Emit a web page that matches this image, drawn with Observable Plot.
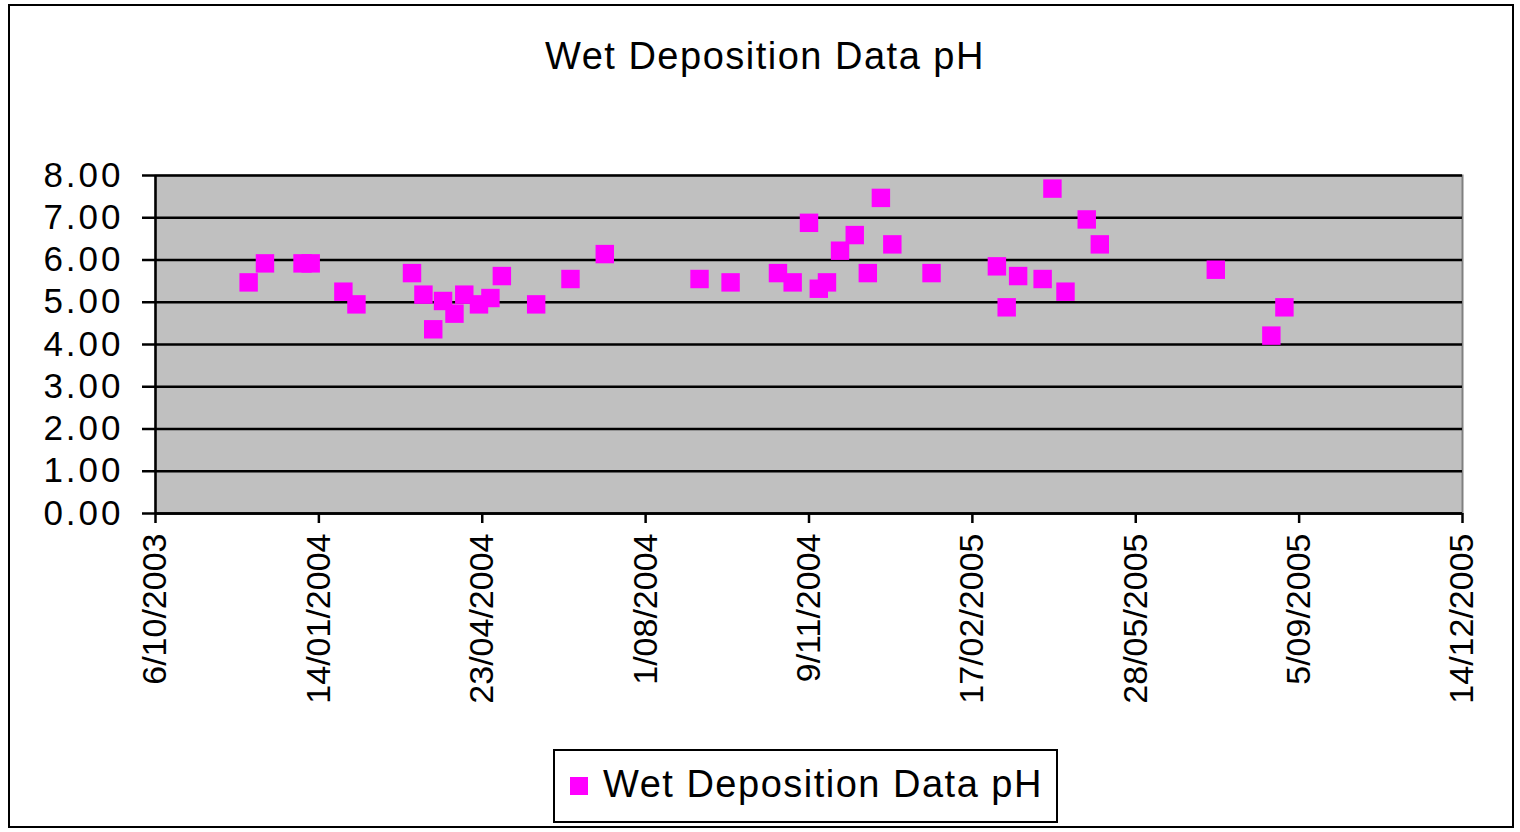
<!DOCTYPE html>
<html>
<head>
<meta charset="utf-8">
<script src="https://cdn.jsdelivr.net/npm/d3@7"></script>
<script src="https://cdn.jsdelivr.net/npm/@observablehq/plot@0.6"></script>
<style>
  html, body { margin: 0; padding: 0; background: #fff; }
  #wrap { position: relative; width: 1520px; height: 832px; font-family: "Liberation Sans", Arial, sans-serif; }
  #border { position: absolute; left: 8px; top: 4px; width: 1506px; height: 824px; border: 2px solid #000; box-sizing: border-box; }
  #title { position: absolute; left: 545px; top: 35px; font-size: 38px; letter-spacing: 1.5px; color: #000; white-space: nowrap; }
  #chart { position: absolute; left: 0; top: 0; }
  #chart .yax text { letter-spacing: 3px; }
  #legend { position: absolute; left: 553px; top: 749px; width: 505px; height: 74px; border: 2px solid #000; box-sizing: border-box; background: #fff; }
  #legend .sw { position: absolute; left: 15px; top: 26px; width: 18px; height: 18px; background: #FF00FF; }
  #legend .lb { position: absolute; left: 48px; top: 12px; font-size: 38px; letter-spacing: 1.5px; white-space: nowrap; }
</style>
</head>
<body>
<div id="wrap">
  <div id="border"></div>
  <div id="chart"></div>
  <div id="title">Wet Deposition Data pH</div>
  <div id="legend"><div class="sw"></div><div class="lb">Wet Deposition Data pH</div></div>
</div>
<script>
const seriesName = "Wet Deposition Data pH";
const dates = [
  "2003-12-02","2003-12-12","2004-01-04","2004-01-09","2004-01-29","2004-02-06",
  "2004-03-11","2004-03-18","2004-03-24","2004-03-30","2004-04-06","2004-04-12",
  "2004-04-21","2004-04-28","2004-05-05","2004-05-26","2004-06-16","2004-07-07",
  "2004-09-03","2004-09-22","2004-10-21","2004-10-30","2004-11-09","2004-11-15",
  "2004-11-20","2004-11-28","2004-12-07","2004-12-15","2004-12-23","2004-12-30",
  "2005-01-23","2005-03-04","2005-03-10","2005-03-17","2005-04-01","2005-04-07",
  "2005-04-15","2005-04-28","2005-05-06","2005-07-16","2005-08-19","2005-08-27"
];
const pH = [
  5.47, 5.92, 5.92, 5.92, 5.25, 4.95,
  5.69, 5.18, 4.36, 5.03, 4.73, 5.18,
  4.95, 5.10, 5.62, 4.95, 5.55, 6.14,
  5.55, 5.47, 5.69, 5.47, 6.88, 5.32,
  5.47, 6.22, 6.59, 5.69, 7.47, 6.37,
  5.69, 5.85, 4.88, 5.62, 5.55, 7.69,
  5.25, 6.96, 6.37, 5.77, 4.21, 4.88
];
const xTickLabels = ["6/10/2003","14/01/2004","23/04/2004","1/08/2004","9/11/2004","17/02/2005","28/05/2005","5/09/2005","14/12/2005"];
const yTicks = [0, 1, 2, 3, 4, 5, 6, 7, 8];

const parseTick = d3.utcParse("%d/%m/%Y");
const fmtTick = d3.utcFormat("%-d/%m/%Y");
const xTicks = xTickLabels.map(parseTick);
const data = dates.map((d, i) => ({date: d3.utcParse("%Y-%m-%d")(d), pH: pH[i]}));

const chart = Plot.plot({
  width: 1520,
  height: 720,
  marginTop: 175,
  marginBottom: 207,
  marginLeft: 155,
  marginRight: 58,
  style: {fontFamily: "Liberation Sans, Arial, sans-serif", background: "transparent", color: "#000"},
  x: {type: "utc", domain: [xTicks[0], xTicks[xTicks.length - 1]]},
  y: {domain: [0, 8]},
  marks: [
    Plot.frame({fill: "#C0C0C0", stroke: "#808080", strokeWidth: 2}),
    Plot.gridY(yTicks, {stroke: "#000", strokeOpacity: 1, strokeWidth: 2.5}),
    Plot.ruleX([xTicks[0]], {stroke: "#000", strokeWidth: 2.5}),
    Plot.ruleY([0], {stroke: "#000", strokeWidth: 2.5}),
    Plot.axisY(yTicks, {
      tickFormat: d => d.toFixed(2), fontSize: 35, tickSize: 13, tickPadding: 19,
      stroke: "#000", strokeWidth: 2.5, label: null, className: "yax"
    }),
    Plot.axisX(xTicks, {
      tickFormat: fmtTick, fontSize: 34, tickSize: 10, tickPadding: 10, tickRotate: -90,
      stroke: "#000", strokeWidth: 2.5, label: null
    }),
    Plot.dot(data, {x: "date", y: "pH", symbol: "square", r: 10.4, fill: "#FF00FF", stroke: "none", title: d => seriesName})
  ]
});
document.getElementById("chart").appendChild(chart);
</script>
</body>
</html>
